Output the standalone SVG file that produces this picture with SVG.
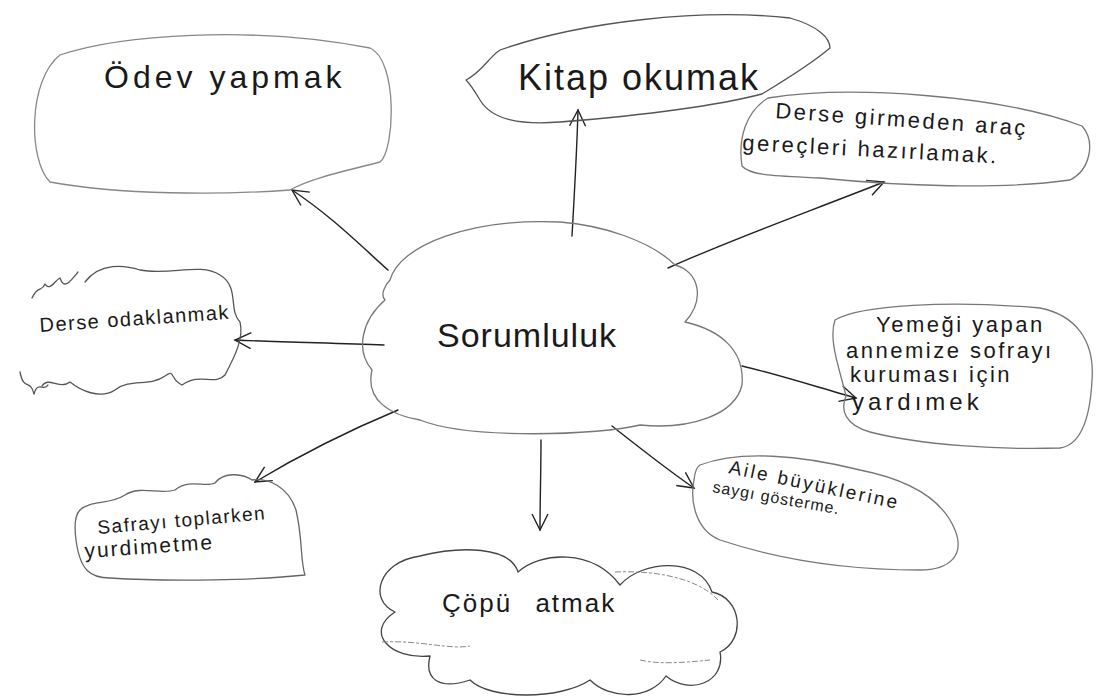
<svg xmlns="http://www.w3.org/2000/svg" width="1096" height="699" viewBox="0 0 1096 699">
<defs>
<style>
.shape{fill:none;stroke:#555;stroke-width:1.3;stroke-linecap:round;stroke-linejoin:round}
.faint{fill:none;stroke:#888;stroke-width:1;stroke-dasharray:6 2 3 2}
.edge{fill:none;stroke:#222;stroke-width:1.4;stroke-linecap:round}
.t{font-family:"Liberation Sans","DejaVu Sans",sans-serif;fill:#1a1a1a;font-weight:normal}
</style>
<marker id="v" viewBox="0 0 20 20" refX="18" refY="10" markerWidth="20" markerHeight="20" markerUnits="userSpaceOnUse" orient="auto">
<path d="M2,2 L18,10 L2,18" fill="none" stroke="#222" stroke-width="1.4"/>
</marker>
</defs>
<rect width="1096" height="699" fill="#ffffff"/>

<g id="edges">
<path class="edge" d="M388,270 C360,245 330,215 292,190" marker-end="url(#v)"/>
<path class="edge" d="M572,236 C574,200 577,150 578,110" marker-end="url(#v)"/>
<path class="edge" d="M668,268 C730,240 800,215 884,182" marker-end="url(#v)"/>
<path class="edge" d="M384,345 C330,343 280,342 235,340" marker-end="url(#v)"/>
<path class="edge" d="M742,366 C780,375 820,388 856,398" marker-end="url(#v)"/>
<path class="edge" d="M398,410 C350,430 300,455 255,482" marker-end="url(#v)"/>
<path class="edge" d="M541,440 C541,470 540,500 540,530" marker-end="url(#v)"/>
<path class="edge" d="M612,426 C640,448 665,468 694,488" marker-end="url(#v)"/>
</g>

<g id="n-center">
<path class="shape" style="stroke:#777" d="M390,280 C400,245 470,218 560,222 C600,225 650,240 675,265 C700,272 705,300 685,322 C720,330 745,350 742,385 C735,415 690,430 640,425 C600,435 470,440 420,420 C390,415 365,400 372,370 C355,350 362,320 385,300 C380,295 385,285 390,280 Z"/>
<text class="t" x="437" y="347" font-size="34" letter-spacing="1">Sorumluluk</text>
</g>

<g id="n-odev">
<path class="shape" style="stroke:#888" d="M60,55 C120,35 250,25 370,48 C398,60 395,150 380,162 C350,170 310,178 290,190 C220,195 120,195 50,182 C28,160 28,80 60,55 Z"/>
<text class="t" x="104" y="88" font-size="32" letter-spacing="4">Ödev yapmak</text>
</g>

<g id="n-kitap">
<path class="shape" d="M466,80 C482,72 488,58 500,50 C580,22 700,8 790,18 C818,26 830,38 830,48 C810,65 785,80 762,94 C700,110 610,118 560,122 C520,125 492,120 480,100 C474,90 470,84 466,80 Z"/>
<text class="t" x="518" y="90" font-size="36" letter-spacing="2">Kitap okumak</text>
</g>

<g id="n-derse-girmeden">
<path class="shape" style="stroke:#777" d="M768,98 C850,85 1000,95 1082,126 C1096,142 1090,170 1070,180 C1000,190 900,186 820,178 C780,176 750,176 742,166 C738,140 745,112 768,98 Z"/>
<text class="t" font-size="22" letter-spacing="2.5" transform="rotate(4 775 118)"><tspan x="775" y="118">Derse girmeden araç</tspan></text>
<text class="t" font-size="22" letter-spacing="2.5" transform="rotate(3 742 150)"><tspan x="742" y="150">gereçleri hazırlamak.</tspan></text>
</g>

<g id="n-derse-odak">
<path class="shape" d="M85,282 C100,262 125,265 140,270 C170,276 200,262 220,275 C240,287 228,310 240,322 C244,338 235,356 225,375 C215,386 200,372 182,385 C170,380 175,368 165,376 C150,387 130,378 115,390 C100,400 80,390 70,382 C60,390 48,376 42,386"/>
<path class="shape" d="M32,298 C38,285 42,292 45,284 C50,292 55,280 60,278 C64,290 70,282 78,272"/>
<path class="shape" d="M20,372 C24,392 30,378 34,394 C38,380 44,392 48,385"/>
<text class="t" font-size="20" letter-spacing="1.5" transform="rotate(-4 40 332)"><tspan x="40" y="332">Derse odaklanmak</tspan></text>
</g>

<g id="n-yemegi">
<path class="shape" style="stroke:#777" d="M835,320 C860,305 950,300 1040,308 C1075,315 1095,340 1092,380 C1090,420 1080,445 1060,448 C1000,450 920,445 870,432 C845,425 840,410 846,396 C840,370 828,340 835,320 Z"/>
<text class="t" font-size="22" letter-spacing="2.5"><tspan x="876" y="332">Yemeği yapan</tspan><tspan x="846" y="358">annemize sofrayı</tspan><tspan x="850" y="382">kuruması için</tspan><tspan x="852" y="410" font-size="24" letter-spacing="4">yardımek</tspan></text>
</g>

<g id="n-sofra">
<path class="shape" style="stroke:#666" d="M80,510 C90,500 110,505 125,495 C140,485 160,495 175,490 C190,478 205,488 215,483 C225,470 245,475 252,480 C268,478 288,486 296,510 C303,540 300,560 305,575 C260,580 170,582 110,578 C90,578 80,570 76,540 C74,525 75,515 80,510 Z"/>
<text class="t" font-size="19" letter-spacing="1.5" transform="rotate(-5 98 534)"><tspan x="98" y="534">Safrayı toplarken</tspan></text>
<text class="t" font-size="21" letter-spacing="2" transform="rotate(-4 85 558)"><tspan x="85" y="558">yurdimetme</tspan></text>
</g>

<g id="n-aile">
<path class="shape" style="stroke:#777" d="M700,465 C740,450 800,455 860,470 C920,482 945,505 955,530 C965,555 950,570 920,570 C850,570 780,560 720,540 C695,530 690,500 694,480 C695,470 697,467 700,465 Z"/>
<text class="t" font-size="19" letter-spacing="2.5" transform="rotate(12 728 473)"><tspan x="728" y="473">Aile büyüklerine</tspan></text>
<text class="t" font-size="16" letter-spacing="1" transform="rotate(10 712 492)"><tspan x="712" y="492">saygı gösterme.</tspan></text>
</g>

<g id="n-copu">
<path class="shape" style="stroke:#444" d="M395,612 C368,600 378,562 420,556 C460,546 510,546 518,572 C540,552 592,548 620,585 C642,560 700,556 712,592 C742,598 746,640 720,652 C726,682 690,696 666,676 C650,700 610,700 590,680 C560,700 490,700 470,680 C440,690 424,680 430,656 C390,660 364,632 395,612 Z"/>
<path class="faint" d="M382,642 C420,640 450,650 470,646 M615,572 C660,570 700,580 718,600 M640,660 C660,665 690,662 710,660"/>
<text class="t" x="442" y="612" font-size="26" letter-spacing="2">Çöpü <tspan dx="14">atmak</tspan></text>
</g>
</svg>
